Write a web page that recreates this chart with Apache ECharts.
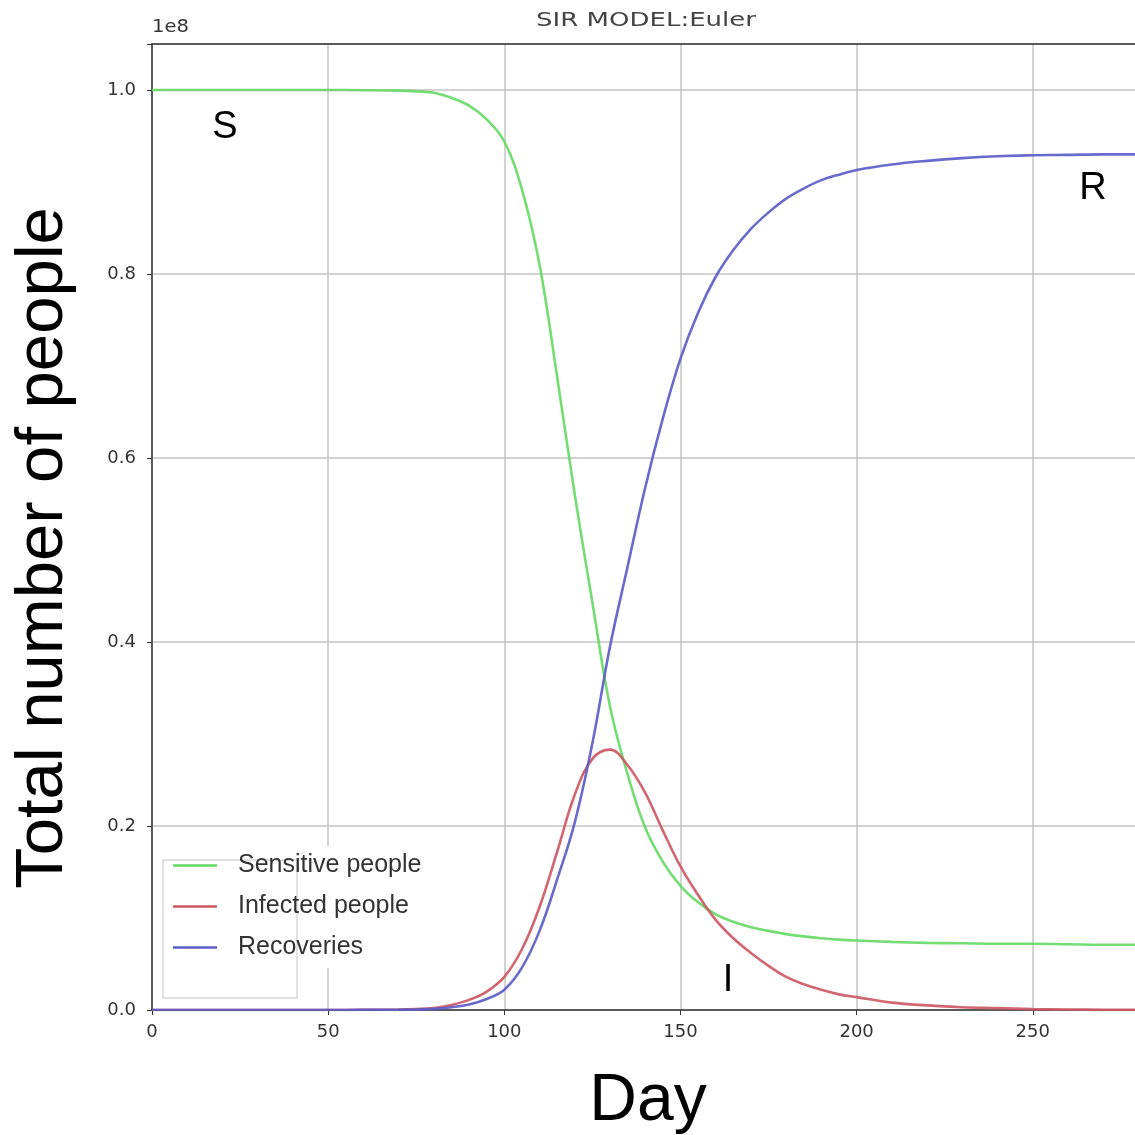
<!DOCTYPE html>
<html>
<head>
<meta charset="utf-8">
<script src="https://cdn.jsdelivr.net/npm/echarts@6/dist/echarts.min.js"></script>
<style>
html, body { margin: 0; padding: 0; background: #fff; overflow: hidden; }
#main { width: 1135px; height: 1135px; }
</style>
</head>
<body>
<div id="main"></div>
<script>
// values are in units of 1e8 people
const days      = [0, 10, 20, 30, 40, 50, 60, 70, 75, 80, 85, 90, 95, 100, 105, 110, 115, 120, 125, 130, 135, 140, 145, 150, 155, 160, 165, 170, 175, 180, 185, 190, 195, 200, 210, 220, 230, 240, 250, 260, 270, 281];
const sensitive = [1.0, 1.0, 1.0, 1.0, 1.0, 1.0, 0.9998, 0.9993, 0.9985, 0.997, 0.9915, 0.983, 0.968, 0.944, 0.892, 0.81, 0.688, 0.56, 0.443, 0.33, 0.256, 0.198, 0.161, 0.135, 0.117, 0.104, 0.096, 0.09, 0.086, 0.0825, 0.08, 0.078, 0.0765, 0.0755, 0.074, 0.073, 0.0725, 0.072, 0.072, 0.0715, 0.071, 0.071];
const infected  = [0, 0, 0, 0, 0, 0, 0.0002, 0.0005, 0.001, 0.0022, 0.0055, 0.011, 0.02, 0.036, 0.066, 0.112, 0.172, 0.234, 0.273, 0.283, 0.266, 0.236, 0.195, 0.156, 0.125, 0.098, 0.078, 0.062, 0.048, 0.036, 0.028, 0.022, 0.017, 0.014, 0.008, 0.005, 0.003, 0.002, 0.001, 0.0005, 0.0003, 0.0002];
const recovered = [0, 0, 0, 0, 0, 0, 0.0001, 0.0003, 0.0006, 0.0012, 0.003, 0.006, 0.012, 0.022, 0.046, 0.086, 0.142, 0.204, 0.29, 0.395, 0.482, 0.568, 0.643, 0.708, 0.758, 0.797, 0.826, 0.849, 0.867, 0.882, 0.893, 0.902, 0.908, 0.913, 0.919, 0.923, 0.926, 0.928, 0.929, 0.9295, 0.93, 0.93];
const seriesNames = ['Sensitive people', 'Infected people', 'Recoveries'];
const xTicks = [0, 50, 100, 150, 200, 250];
const yTicks = [0, 0.2, 0.4, 0.6, 0.8, 1.0];

const chart = echarts.init(document.getElementById('main'), null, { renderer: 'canvas' });

function pairs(vals) {
    return days.map((d, i) => [d, vals[i]]);
}

const tickFont = { fontFamily: 'DejaVu Sans', fontSize: 18, color: '#333' };
const gridLine = { show: true, lineStyle: { color: '#c4c4c4', width: 1.5 } };
const axisLine = { show: true, onZero: false, lineStyle: { color: '#333', width: 1.5 } };

function lineSeries(name, vals, color) {
    return {
        name: name,
        type: 'line',
        smooth: 0.4,
        showSymbol: false,
        symbol: 'none',
        z: 3,
        lineStyle: { width: 2.6, color: color, opacity: 0.9 },
        itemStyle: { color: color },
        data: pairs(vals)
    };
}

function label(text, x, y, size, extra) {
    return Object.assign({
        type: 'text', x: x, y: y,
        style: { text: text, font: size + 'px "Liberation Sans"', fill: '#000', align: 'center', verticalAlign: 'middle' }
    }, extra || {});
}

const option = {
    backgroundColor: '#fff',
    animation: false,
    // plot area runs past the right edge of the page, as in the cropped original
    grid: { left: 152, top: 44, width: 990, bottom: 125, outerBoundsMode: 'none' },
    xAxis: [{
        type: 'value',
        min: 0,
        max: 281,
        interval: 50,
        axisLine: axisLine,
        axisTick: { show: true, length: 5, lineStyle: { color: '#333' } },
        axisLabel: Object.assign({
            margin: 13,
            formatter: v => xTicks.includes(v) ? String(v) : ''
        }, tickFont),
        splitLine: gridLine
    }, {
        // top frame line
        type: 'value',
        position: 'top',
        min: 0,
        max: 281,
        axisLine: axisLine,
        axisTick: { show: false },
        axisLabel: { show: false },
        splitLine: { show: false }
    }],
    yAxis: {
        type: 'value',
        min: 0,
        max: 1.05,
        interval: 0.2,
        axisLine: axisLine,
        axisTick: { show: true, length: 5, lineStyle: { color: '#333' } },
        axisLabel: Object.assign({
            margin: 16,
            formatter: v => yTicks.some(t => Math.abs(t - v) < 1e-6) ? v.toFixed(1) : ''
        }, tickFont),
        splitLine: gridLine
    },
    legend: {
        data: seriesNames,
        orient: 'vertical',
        left: 173,
        top: 853,
        padding: 0,
        icon: 'rect',
        itemWidth: 44,
        itemHeight: 2.5,
        itemGap: 16,
        z: 10,
        textStyle: { fontFamily: 'Liberation Sans', fontSize: 25, color: '#333', lineHeight: 25, padding: [0, 0, 0, 16] }
    },
    graphic: [
        { type: 'rect', z: 1, shape: { x: 160, y: 846, width: 285, height: 122 }, style: { fill: '#fff' } },
        { type: 'rect', z: 1, shape: { x: 163, y: 860, width: 134, height: 138 }, style: { fill: '#fff', stroke: '#d8d8d8', lineWidth: 1.5 } },
        { type: 'text', x: 152, y: 28, scaleX: 1.15, style: { text: '1e8', font: '17px "DejaVu Sans"', fill: '#333', verticalAlign: 'middle' } },
        { type: 'text', x: 646, y: 21, scaleX: 1.3, style: { text: 'SIR MODEL:Euler', font: '20px "DejaVu Sans"', fill: '#444', align: 'center', verticalAlign: 'middle' } },
        label('Total number of people', 44, 548, 67, { rotation: Math.PI / 2 }),
        label('Day', 648, 1102, 66),
        label('S', 225, 128, 38),
        label('R', 1093, 189, 38),
        label('I', 728, 981, 38)
    ],
    series: [
        lineSeries(seriesNames[0], sensitive, '#64d864'),
        lineSeries(seriesNames[1], infected, '#cc5560'),
        lineSeries(seriesNames[2], recovered, '#5a5ac8')
    ]
};

chart.setOption(option);
</script>
</body>
</html>
